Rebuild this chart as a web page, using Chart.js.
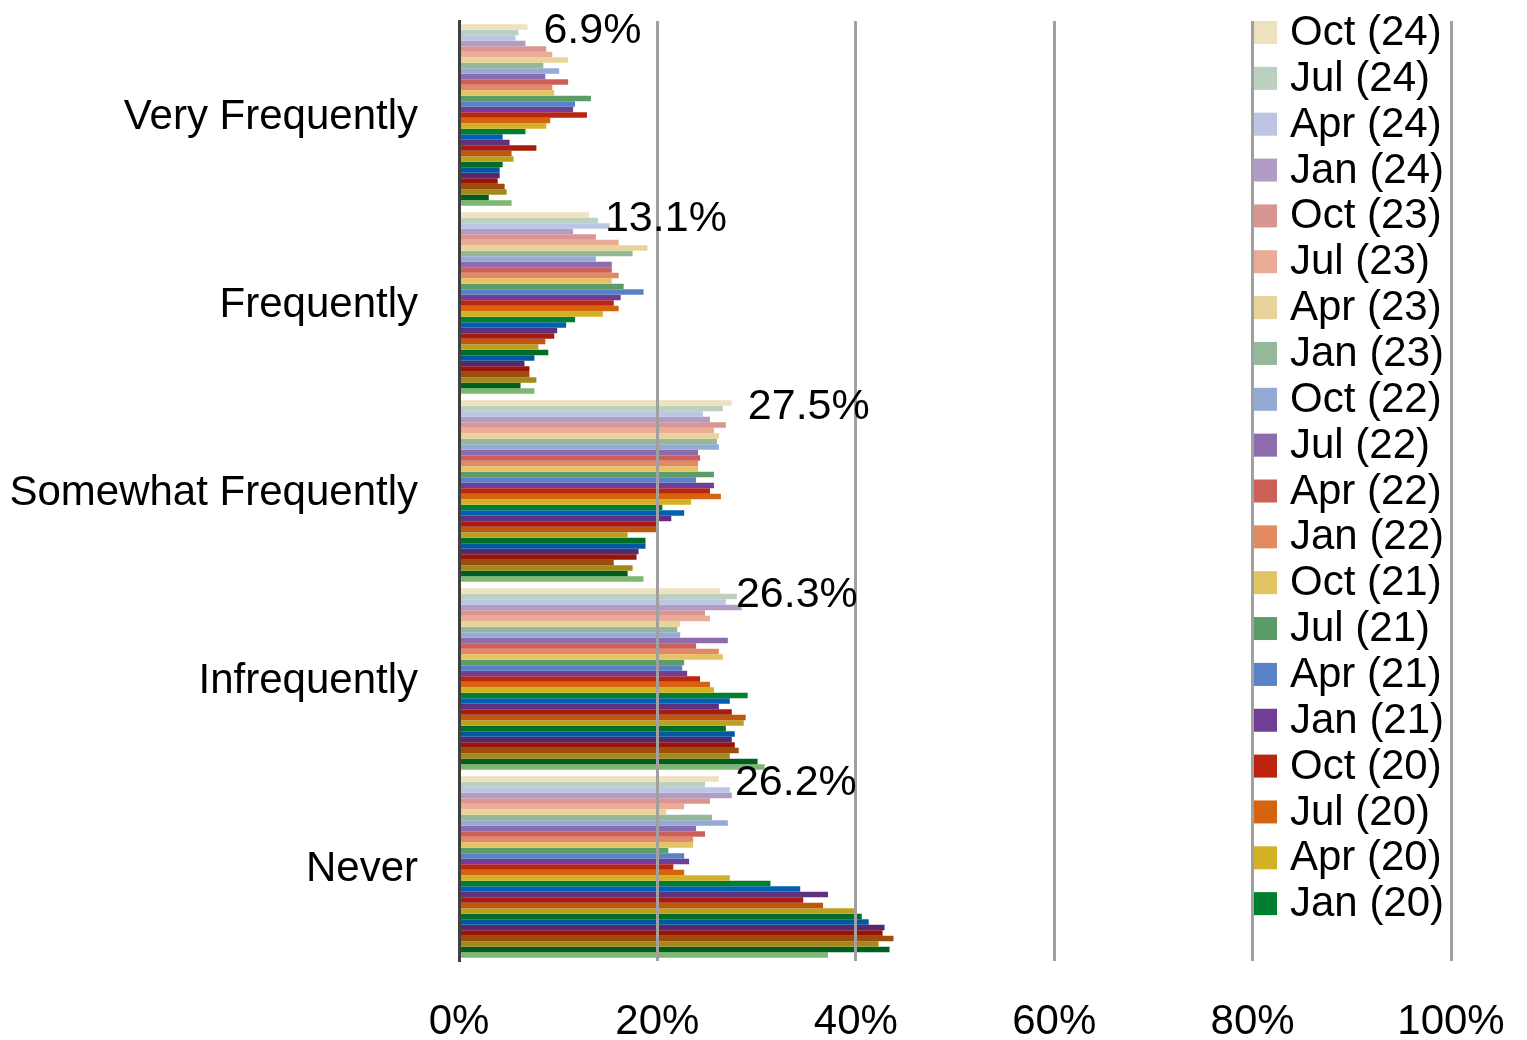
<!DOCTYPE html>
<html>
<head>
<meta charset="utf-8">
<script src="https://cdn.jsdelivr.net/npm/chart.js@4/dist/chart.umd.min.js"></script>
<style>
  html, body { margin: 0; padding: 0; background: #ffffff; }
  #wrap { width: 1527px; height: 1040px; }
</style>
</head>
<body>
<div id="wrap"><canvas id="c" width="1527" height="1040"></canvas></div>
<script>
const categories = ['Very Frequently', 'Frequently', 'Somewhat Frequently', 'Infrequently', 'Never'];

const seriesNames = ['Oct (24)', 'Jul (24)', 'Apr (24)', 'Jan (24)', 'Oct (23)', 'Jul (23)', 'Apr (23)', 'Jan (23)',
  'Oct (22)', 'Jul (22)', 'Apr (22)', 'Jan (22)', 'Oct (21)', 'Jul (21)', 'Apr (21)', 'Jan (21)',
  'Oct (20)', 'Jul (20)', 'Apr (20)', 'Jan (20)', 'Oct (19)', 'Jul (19)', 'Apr (19)', 'Jan (19)',
  'Oct (18)', 'Jul (18)', 'Apr (18)', 'Jan (18)', 'Oct (17)', 'Jul (17)', 'Apr (17)', 'Jan (17)', 'Oct (16)'];

const seriesColors = ['#EEE1BD', '#BCD0C0', '#BCC6E4', '#B09CC4', '#D99592', '#EAAC96', '#E8D49A', '#94B898',
  '#94AAD6', '#8C6CAC', '#CC5F58', '#E48A62', '#E2C464', '#5C9C68', '#5A80C8', '#703E94',
  '#BC2410', '#D4640E', '#D4B024', '#00802E', '#0060B4', '#60307E', '#A81C0C', '#BC5810',
  '#BCA020', '#006E28', '#0058A0', '#562870', '#981408', '#A04C0C', '#A08A1C', '#005E20', '#7CB870'];

// values (%) per category, one entry per series (same order as seriesNames)
const veryFrequently = [6.9, 6.0, 5.7, 6.7, 8.8, 9.4, 11.0, 8.5, 10.1, 8.7, 11.0, 9.4, 9.6, 13.3, 11.7, 11.5,
  12.9, 9.2, 8.8, 6.7, 4.4, 5.1, 7.8, 5.3, 5.5, 4.4, 4.1, 4.1, 3.9, 4.6, 4.8, 3.0, 5.3];
const frequently = [13.1, 14.0, 15.2, 11.5, 13.8, 16.1, 19.0, 17.5, 13.8, 15.4, 15.4, 16.1, 15.4, 16.6, 18.6, 16.3,
  15.6, 16.1, 14.5, 11.7, 10.8, 9.9, 9.6, 8.7, 8.0, 9.0, 7.6, 6.6, 7.1, 7.1, 7.8, 6.2, 7.6];
const somewhatFrequently = [27.5, 26.6, 24.6, 25.3, 26.9, 25.7, 26.2, 26.0, 26.2, 24.1, 24.3, 24.1, 24.1, 25.7, 23.9, 25.7,
  25.3, 26.4, 23.4, 20.5, 22.7, 21.4, 20.0, 20.0, 17.0, 18.8, 18.8, 18.1, 17.9, 15.6, 17.5, 17.0, 18.6];
const infrequently = [26.3, 28.0, 26.9, 28.5, 24.8, 25.3, 22.3, 22.0, 22.3, 27.1, 23.9, 26.2, 26.6, 22.7, 22.5, 23.0,
  24.3, 25.3, 25.7, 29.1, 27.3, 26.2, 27.5, 28.9, 28.7, 26.9, 27.8, 27.5, 27.8, 28.2, 27.3, 30.1, 30.8];
const never = [26.2, 24.8, 27.3, 27.5, 25.3, 22.7, 20.9, 25.5, 27.1, 23.9, 24.8, 23.6, 23.6, 21.1, 22.7, 23.2,
  21.6, 22.7, 27.3, 31.4, 34.4, 37.2, 34.7, 36.7, 39.9, 40.6, 41.3, 42.9, 42.7, 43.8, 42.3, 43.4, 37.2];

const xTickValues = [0, 20, 40, 60, 80, 100];
const legendCount = 20;       // the legend shows the 20 most recent series
const labelledSeries = 0;     // only the latest series carries value labels

const byCategory = [veryFrequently, frequently, somewhatFrequently, infrequently, never];
const FONT = '"Liberation Sans", Arial, sans-serif';

const datasets = seriesNames.map((name, s) => ({
  label: name,
  data: byCategory.map(arr => arr[s]),
  backgroundColor: seriesColors[s],
  borderWidth: 0,
  categoryPercentage: 0.965,
  barPercentage: 1.0
}));

const valueLabels = {
  id: 'valueLabels',
  afterDraw(chart) {
    const ctx = chart.ctx;
    const meta = chart.getDatasetMeta(labelledSeries);
    ctx.save();
    ctx.font = '43px ' + FONT;
    ctx.fillStyle = '#000000';
    ctx.textAlign = 'left';
    ctx.textBaseline = 'middle';
    meta.data.forEach((el, i) => {
      const v = chart.data.datasets[labelledSeries].data[i];
      ctx.fillText(v.toFixed(1) + '%', el.x + 16, el.y + 4);
    });
    ctx.restore();
  }
};

const overlayLegend = {
  id: 'overlayLegend',
  afterDraw(chart) {
    const ctx = chart.ctx;
    ctx.save();
    ctx.font = '42px ' + FONT;
    ctx.textAlign = 'left';
    ctx.textBaseline = 'middle';
    for (let i = 0; i < legendCount; i++) {
      const yc = 32.5 + i * 45.85;
      ctx.fillStyle = chart.data.datasets[i].backgroundColor;
      ctx.fillRect(1254, yc - 11.5, 23, 23);
      ctx.fillStyle = '#000000';
      ctx.fillText(chart.data.datasets[i].label, 1290, yc + 1);
    }
    ctx.restore();
  }
};

new Chart(document.getElementById('c'), {
  type: 'bar',
  data: { labels: categories, datasets },
  options: {
    indexAxis: 'y',
    responsive: false,
    animation: false,
    layout: { padding: { top: 21, right: 76, bottom: 0, left: 0 } },
    plugins: {
      legend: { display: false },
      tooltip: { enabled: false }
    },
    scales: {
      x: {
        min: 0,
        max: 100,
        afterBuildTicks: (scale) => { scale.ticks = xTickValues.map(v => ({ value: v })); },
        afterFit: (scale) => {
          scale.height = 79;
          scale.paddingLeft = 0; scale.paddingRight = 0;
        },
        grid: { color: '#A0A0A0', lineWidth: 3, drawTicks: false, z: 1 },
        border: { display: false },
        ticks: {
          padding: 36,
          color: '#000000',
          font: { family: FONT, size: 42 },
          callback: (v) => v + '%'
        }
      },
      y: {
        afterFit: (scale) => {
          scale.width = 459;
          scale.paddingTop = 0; scale.paddingBottom = 0;
        },
        grid: { display: false, drawTicks: false },
        border: { display: true, color: '#404040', width: 3, z: 2 },
        ticks: {
          padding: 41,
          labelOffset: 2,
          color: '#000000',
          font: { family: FONT, size: 42 }
        }
      }
    }
  },
  plugins: [valueLabels, overlayLegend]
});
</script>
</body>
</html>
